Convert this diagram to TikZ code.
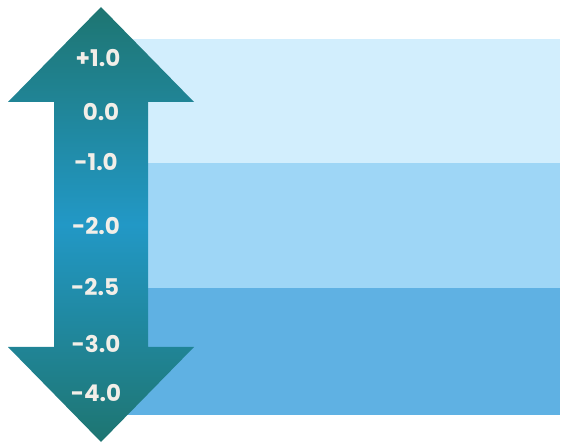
\documentclass[tikz,border=0pt]{standalone}
\usepackage{fontspec}
\setmainfont{Poppins}[BoldFont={Poppins Bold}]
\definecolor{bandA}{HTML}{D2EEFD}
\definecolor{bandB}{HTML}{9ED6F6}
\definecolor{bandC}{HTML}{5FB1E3}
\definecolor{arrEnd}{HTML}{1E7571}
\definecolor{arrMid}{HTML}{2298C6}
\definecolor{lab}{HTML}{F2EEE8}
\tikzset{lbl/.style={text=lab, font=\fontsize{23}{27}\selectfont\bfseries, inner sep=0pt, anchor=center}}
\begin{document}
\begin{tikzpicture}[x=1pt,y=-1pt]
\useasboundingbox (0,0) rectangle (568,446);
\fill[bandA] (120,39) rectangle (560,163);
\fill[bandB] (120,163) rectangle (560,288);
\fill[bandC] (120,288) rectangle (560,415);
\shade[top color=arrEnd, bottom color=arrEnd, middle color=arrMid]
  (101,7) -- (194,102) -- (148,102) -- (148,347) -- (194,347) -- (101,442)
  -- (8,347) -- (54,347) -- (54,102) -- (8,102) -- cycle;
\node[lbl] (p1) at (98,58) {+1.0};
\node[lbl] (z0) at (101,112) {0.0};
\node[lbl] (m1) at (96,162) {-1.0};
\node[lbl] (m2) at (96,226) {-2.0};
\node[lbl] (m25) at (95,287) {-2.5};
\node[lbl] (m3) at (96,344) {-3.0};
\node[lbl] (m4) at (96,393) {-4.0};
\end{tikzpicture}
\end{document}
